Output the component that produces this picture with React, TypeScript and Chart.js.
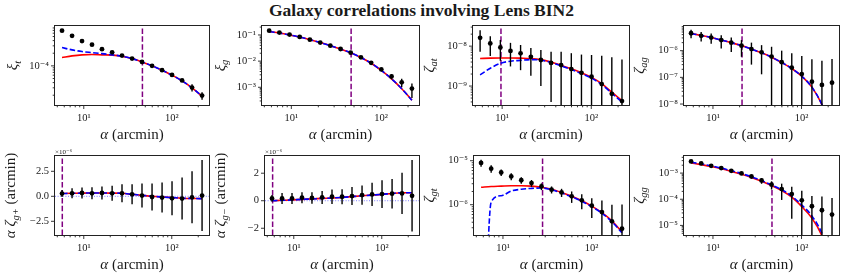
import React, { useEffect, useRef } from "react";
import { Chart, registerables } from "chart.js";

Chart.register(...registerables);

const W = 843;
const H = 278;
const SERIF = "'Liberation Serif', 'DejaVu Serif', serif";
const TEXT = "#1a1a1a";
const PURPLE = "#800080";

// ---------- data ----------
const ALPHA = [5.66, 7.36, 9.55, 12.4, 16.1, 21.0, 27.2, 35.4, 45.9, 59.7, 77.6, 100.7, 131, 170, 221];
const X_MIN = 4.71;
const X_MAX = 265;
const X_MAJOR = [10, 100];
const X_LABELS = ["10¹", "10²"];

// xi_t
const XI_T = [6.9e-4, 5.2e-4, 3.9e-4, 3.2e-4, 2.5e-4, 2.1e-4, 1.76e-4, 1.49e-4, 1.24e-4, 1.0e-4, 7.9e-5, 6.1e-5, 4.5e-5, 3.05e-5, 1.96e-5];
const XI_T_ERR = [1.5e-5, 1.2e-5, 9e-6, 7e-6, 6e-6, 5e-6, 4e-6, 3.5e-6, 3e-6, 2.5e-6, 2.5e-6, 2.5e-6, 3e-6, 6e-6, 4e-6];
const XI_T_RED = [1.58e-4, 1.73e-4, 1.83e-4, 1.86e-4, 1.83e-4, 1.8e-4, 1.7e-4, 1.49e-4, 1.24e-4, 1.0e-4, 7.9e-5, 6.0e-5, 4.4e-5, 3.0e-5, 1.9e-5];
const XI_T_BLUE = [2.73e-4, 2.4e-4, 2.19e-4, 2.07e-4, 1.96e-4, 1.83e-4, 1.7e-4, 1.49e-4, 1.24e-4, 1.0e-4, 7.9e-5, 6.0e-5, 4.4e-5, 3.0e-5, 1.9e-5];
const XI_T_TICKS = [1e-4];
const XI_T_TICK_LABELS = ["10⁻⁴"];

// xi_g
const XI_G = [0.146, 0.123, 0.103, 0.084, 0.066, 0.051, 0.039, 0.029, 0.021, 0.0139, 0.0086, 0.0048, 0.0026, 0.00155, 0.00089];
const XI_G_ERR = [0.004, 0.003, 0.0025, 0.002, 0.0015, 0.0012, 0.001, 0.0008, 0.0007, 0.0006, 0.0006, 0.0006, 0.0006, 0.00055, 0.0005];
const XI_G_RED = [0.135, 0.118, 0.1, 0.083, 0.066, 0.051, 0.039, 0.029, 0.021, 0.0137, 0.0083, 0.0044, 0.0021, 0.00088, 0.00032];
const XI_G_BLUE = [0.135, 0.118, 0.1, 0.083, 0.066, 0.051, 0.039, 0.029, 0.021, 0.0137, 0.0083, 0.0044, 0.0021, 0.00088, 0.00032];
const XI_G_TICKS = [0.1, 0.01, 0.001];
const XI_G_TICK_LABELS = ["10⁻¹", "10⁻²", "10⁻³"];

// zeta_at
const ZETA_AT = [1.62e-8, 1.17e-8, 9.3e-9, 7.6e-9, 6.6e-9, 5.4e-9, 4.5e-9, 3.8e-9, 3.35e-9, 2.66e-9, 2.15e-9, 1.71e-9, 1.12e-9, 6.4e-10, 4.2e-10];
const ZETA_AT_ERR = [9e-9, 6e-9, 5e-9, 4.5e-9, 4.1e-9, 3.6e-9, 3.5e-9, 3.4e-9, 3.9e-9, 4.0e-9, 4.0e-9, 4.3e-9, 4.6e-9, 4.6e-9, 4.2e-9];
const ZETA_AT_RED = [4.9e-9, 5.0e-9, 5.05e-9, 5.05e-9, 5.0e-9, 4.9e-9, 4.6e-9, 4.0e-9, 3.3e-9, 2.7e-9, 2.15e-9, 1.65e-9, 1.15e-9, 7.0e-10, 4.3e-10];
const ZETA_AT_BLUE = [1.9e-9, 2.8e-9, 3.7e-9, 4.2e-9, 4.4e-9, 4.6e-9, 4.45e-9, 3.9e-9, 3.2e-9, 2.6e-9, 2.05e-9, 1.58e-9, 1.08e-9, 6.6e-10, 4.0e-10];
const ZETA_AT_TICKS = [1e-8, 1e-9];
const ZETA_AT_TICK_LABELS = ["10⁻⁸", "10⁻⁹"];

// zeta_ag
const ZETA_AG = [4.5e-6, 3.6e-6, 3.1e-6, 2.5e-6, 2.0e-6, 1.54e-6, 1.15e-6, 8.7e-7, 6.0e-7, 3.7e-7, 2.3e-7, 1.33e-7, 6.9e-8, 5.2e-8, 6.3e-8];
const ZETA_AG_ERR = [1.6e-6, 1.4e-6, 1.3e-6, 1.3e-6, 1.1e-6, 9.5e-7, 8.5e-7, 7.4e-7, 8e-7, 6.3e-7, 5.7e-7, 5e-7, 4.1e-7, 3.7e-7, 4.2e-7];
const ZETA_AG_RED = [4.4e-6, 3.7e-6, 3.1e-6, 2.5e-6, 2.0e-6, 1.55e-6, 1.15e-6, 8.3e-7, 5.7e-7, 3.6e-7, 2.15e-7, 1.1e-7, 4.3e-8, 9.5e-9, 1e-9];
const ZETA_AG_BLUE = [4.4e-6, 3.7e-6, 3.1e-6, 2.5e-6, 2.0e-6, 1.55e-6, 1.15e-6, 8.3e-7, 5.7e-7, 3.6e-7, 2.15e-7, 1.1e-7, 4.3e-8, 9.5e-9, 1e-9];
const ZETA_AG_TICKS = [1e-6, 1e-7, 1e-8];
const ZETA_AG_TICK_LABELS = ["10⁻⁶", "10⁻⁷", "10⁻⁸"];

// alpha * zeta_g+  (x1e-6)
const AZ_GP = [0.27, 0.3, 0.33, 0.3, 0.33, 0.3, 0.3, 0.2, 0.07, -0.07, -0.13, -0.2, -0.23, -0.1, 0.07];
const AZ_GP_ERR = [0.35, 0.5, 0.55, 0.6, 0.65, 0.75, 0.9, 1.0, 1.2, 1.35, 1.5, 1.7, 2.1, 2.6, 3.55];
const AZ_GP_RED = [0.28, 0.3, 0.32, 0.33, 0.33, 0.32, 0.3, 0.2, 0.1, 0.0, -0.07, -0.13, -0.19, -0.22, -0.23];
const AZ_GP_BLUE = [0.28, 0.3, 0.32, 0.33, 0.33, 0.32, 0.3, 0.2, 0.1, 0.0, -0.07, -0.13, -0.19, -0.22, -0.23];
const AZ_GP_TICKS = [2.5, 0, -2.5];
const AZ_GP_TICK_LABELS = ["2.5", "0.0", "−2.5"];

// alpha * zeta_g-  (x1e-6)
const AZ_GM = [0.17, 0.17, 0.17, 0.22, 0.2, 0.24, 0.29, 0.29, 0.34, 0.41, 0.46, 0.48, 0.51, 0.53, 0.36];
const AZ_GM_ERR = [0.25, 0.4, 0.4, 0.4, 0.42, 0.47, 0.52, 0.55, 0.65, 0.7, 0.84, 1.0, 1.07, 1.5, 2.6];
const AZ_GM_RED = [0.0, 0.03, 0.06, 0.1, 0.13, 0.17, 0.2, 0.24, 0.3, 0.36, 0.41, 0.46, 0.53, 0.58, 0.58];
const AZ_GM_BLUE = [0.0, 0.03, 0.06, 0.1, 0.13, 0.17, 0.2, 0.24, 0.3, 0.36, 0.41, 0.46, 0.53, 0.58, 0.58];
const AZ_GM_TICKS = [2, 0, -2];
const AZ_GM_TICK_LABELS = ["2", "0", "−2"];

// zeta_gt
const ZETA_GT = [8.9e-6, 6.6e-6, 5.4e-6, 4.4e-6, 3.6e-6, 3.1e-6, 2.6e-6, 2.2e-6, 1.9e-6, 1.55e-6, 1.26e-6, 9.5e-7, 6.8e-7, 4.2e-7, 2.85e-7];
const ZETA_GT_ERR = [1.6e-6, 1.3e-6, 9e-7, 8e-7, 6e-7, 5.5e-7, 4.5e-7, 4e-7, 4e-7, 4.5e-7, 4.7e-7, 4.5e-7, 5.6e-7, 5.8e-7, 7.2e-7];
const ZETA_GT_RED = [2.5e-6, 2.6e-6, 2.65e-6, 2.7e-6, 2.7e-6, 2.65e-6, 2.5e-6, 2.25e-6, 1.9e-6, 1.55e-6, 1.23e-6, 9.3e-7, 6.6e-7, 4.3e-7, 2.4e-7];
const ZETA_GT_BLUE = [1e-12, 1.15e-6, 1.6e-6, 2.05e-6, 2.25e-6, 2.35e-6, 2.4e-6, 2.2e-6, 1.85e-6, 1.52e-6, 1.2e-6, 9.0e-7, 6.4e-7, 4.1e-7, 2.3e-7];
const ZETA_GT_TICKS = [1e-5, 1e-6];
const ZETA_GT_TICK_LABELS = ["10⁻⁵", "10⁻⁶"];

// zeta_gg
const ZETA_GG = [2.8e-3, 2.35e-3, 1.9e-3, 1.55e-3, 1.22e-3, 9.7e-4, 7.4e-4, 5.2e-4, 3.6e-4, 2.44e-4, 1.58e-4, 9.1e-5, 5.4e-5, 3.8e-5, 2.6e-5];
const ZETA_GG_ERR = [8e-5, 7e-5, 5e-5, 4e-5, 3.5e-5, 3.5e-5, 6e-5, 1.3e-4, 1.25e-4, 1.5e-4, 1.4e-4, 1.2e-4, 8e-5, 9e-5, 8.5e-5];
const ZETA_GG_RED = [2.45e-3, 2.1e-3, 1.78e-3, 1.46e-3, 1.16e-3, 9.0e-4, 6.8e-4, 4.9e-4, 3.35e-4, 2.15e-4, 1.2e-4, 5.2e-5, 1.9e-5, 4e-6, 3e-7];
const ZETA_GG_BLUE = [2.6e-3, 2.25e-3, 1.88e-3, 1.55e-3, 1.23e-3, 9.6e-4, 7.2e-4, 5.2e-4, 3.5e-4, 2.3e-4, 1.32e-4, 6.0e-5, 2.3e-5, 5e-6, 4e-7];
const ZETA_GG_TICKS = [1e-3, 1e-4, 1e-5];
const ZETA_GG_TICK_LABELS = ["10⁻³", "10⁻⁴", "10⁻⁵"];

// scale cuts (vertical purple lines), in arcmin
const SCALE_CUTS = [46.4, 46.4, 9.7, 21.3, 5.7, 5.75, 28, 46.4];

const TITLE = "Galaxy correlations involving Lens BIN2";

// ---------- layout ----------
type Part = { t: string; it?: boolean; sub?: boolean };
type Panel = {
  left: number; top: number; right: number; bottom: number;
  yType: "logarithmic" | "linear";
  yMin: number; yMax: number;
  yTicks: number[]; yTickLabels: string[];
  vals: number[]; err: number[]; red: number[]; blue: number[];
  cut: number;
  label: Part[]; labelX: number;
  zero?: boolean; offsetText?: string;
};

const Y_W = 40;
const X_H = 40;

const PANELS: Panel[] = [
  { left: 55, top: 26, right: 209, bottom: 105, yType: "logarithmic", yMin: 1.17e-5, yMax: 8.9e-4, yTicks: XI_T_TICKS, yTickLabels: XI_T_TICK_LABELS, vals: XI_T, err: XI_T_ERR, red: XI_T_RED, blue: XI_T_BLUE, cut: SCALE_CUTS[0], label: [{ t: "ξ", it: true }, { t: "t", it: true, sub: true }], labelX: 13.5 },
  { left: 262, top: 26, right: 419, bottom: 105, yType: "logarithmic", yMin: 2.1e-4, yMax: 0.22, yTicks: XI_G_TICKS, yTickLabels: XI_G_TICK_LABELS, vals: XI_G, err: XI_G_ERR, red: XI_G_RED, blue: XI_G_BLUE, cut: SCALE_CUTS[1], label: [{ t: "ξ", it: true }, { t: "g", it: true, sub: true }], labelX: 221 },
  { left: 473, top: 26, right: 629, bottom: 105, yType: "logarithmic", yMin: 3.35e-10, yMax: 3.2e-8, yTicks: ZETA_AT_TICKS, yTickLabels: ZETA_AT_TICK_LABELS, vals: ZETA_AT, err: ZETA_AT_ERR, red: ZETA_AT_RED, blue: ZETA_AT_BLUE, cut: SCALE_CUTS[2], label: [{ t: "ζ", it: true }, { t: "at", it: true, sub: true }], labelX: 430 },
  { left: 684, top: 26, right: 839, bottom: 105, yType: "logarithmic", yMin: 9.2e-9, yMax: 8.4e-6, yTicks: ZETA_AG_TICKS, yTickLabels: ZETA_AG_TICK_LABELS, vals: ZETA_AG, err: ZETA_AG_ERR, red: ZETA_AG_RED, blue: ZETA_AG_BLUE, cut: SCALE_CUTS[3], label: [{ t: "ζ", it: true }, { t: "ag", it: true, sub: true }], labelX: 640 },
  { left: 55, top: 156, right: 209, bottom: 235, yType: "linear", yMin: -3.87, yMax: 4.03, yTicks: AZ_GP_TICKS, yTickLabels: AZ_GP_TICK_LABELS, vals: AZ_GP, err: AZ_GP_ERR, red: AZ_GP_RED, blue: AZ_GP_BLUE, cut: SCALE_CUTS[4], label: [{ t: "α ζ", it: true }, { t: "g+", it: true, sub: true }, { t: " (arcmin)" }], labelX: 11.5, zero: true, offsetText: "×10⁻⁶" },
  { left: 265, top: 156, right: 419, bottom: 235, yType: "linear", yMin: -2.49, yMax: 3.25, yTicks: AZ_GM_TICKS, yTickLabels: AZ_GM_TICK_LABELS, vals: AZ_GM, err: AZ_GM_ERR, red: AZ_GM_RED, blue: AZ_GM_BLUE, cut: SCALE_CUTS[5], label: [{ t: "α ζ", it: true }, { t: "g−", it: true, sub: true }, { t: " (arcmin)" }], labelX: 221, zero: true, offsetText: "×10⁻⁶" },
  { left: 474, top: 156, right: 629, bottom: 235, yType: "logarithmic", yMin: 2.05e-7, yMax: 1.28e-5, yTicks: ZETA_GT_TICKS, yTickLabels: ZETA_GT_TICK_LABELS, vals: ZETA_GT, err: ZETA_GT_ERR, red: ZETA_GT_RED, blue: ZETA_GT_BLUE, cut: SCALE_CUTS[6], label: [{ t: "ζ", it: true }, { t: "gt", it: true, sub: true }], labelX: 430 },
  { left: 684, top: 156, right: 839, bottom: 235, yType: "logarithmic", yMin: 4.3e-6, yMax: 4.5e-3, yTicks: ZETA_GG_TICKS, yTickLabels: ZETA_GG_TICK_LABELS, vals: ZETA_GG, err: ZETA_GG_ERR, red: ZETA_GG_RED, blue: ZETA_GG_BLUE, cut: SCALE_CUTS[7], label: [{ t: "ζ", it: true }, { t: "gg", it: true, sub: true }], labelX: 640 },
];

function logTicks(min: number, max: number): number[] {
  const out: number[] = [];
  for (let d = Math.floor(Math.log10(min)); d <= Math.ceil(Math.log10(max)); d++) {
    for (let k = 1; k <= 9; k++) {
      const v = k * Math.pow(10, d);
      if (v >= min && v <= max) out.push(v);
    }
  }
  return out;
}

function isDecade(v: number) {
  const l = Math.log10(v);
  return Math.abs(l - Math.round(l)) < 1e-6;
}

function findIdx(list: number[], v: number) {
  return list.findIndex((m) => Math.abs(m - v) <= Math.abs(m) * 1e-6 + 1e-12);
}

function drawRich(ctx: CanvasRenderingContext2D, parts: Part[], cx: number, cy: number, size: number, rotate: boolean) {
  ctx.save();
  ctx.translate(cx, cy);
  if (rotate) ctx.rotate(-Math.PI / 2);
  ctx.textBaseline = "middle";
  ctx.textAlign = "left";
  ctx.fillStyle = TEXT;
  const fontFor = (p: Part) => `${p.it ? "italic " : ""}${p.sub ? size * 0.7 : size}px ${SERIF}`;
  let total = 0;
  const widths = parts.map((p) => {
    ctx.font = fontFor(p);
    const w = ctx.measureText(p.t).width;
    total += w;
    return w;
  });
  let x = -total / 2;
  parts.forEach((p, i) => {
    ctx.font = fontFor(p);
    ctx.fillText(p.t, x, p.sub ? size * 0.3 : 0);
    x += widths[i];
  });
  ctx.restore();
}

function makePlugin(p: Panel) {
  return {
    id: "panelDecor",
    beforeDatasetsDraw(chart: any) {
      const { ctx, chartArea: a, scales } = chart;
      ctx.save();
      ctx.beginPath();
      ctx.rect(a.left, a.top, a.right - a.left, a.bottom - a.top);
      ctx.clip();
      if (p.zero) {
        const y = scales.y.getPixelForValue(0);
        ctx.strokeStyle = "rgba(70,70,255,0.7)";
        ctx.lineWidth = 1;
        ctx.setLineDash([1, 1.6]);
        ctx.beginPath();
        ctx.moveTo(a.left, y);
        ctx.lineTo(a.right, y);
        ctx.stroke();
      }
      const x = scales.x.getPixelForValue(p.cut);
      ctx.strokeStyle = PURPLE;
      ctx.lineWidth = 1.5;
      ctx.setLineDash([5.5, 2.4]);
      ctx.beginPath();
      ctx.moveTo(x, a.bottom);
      ctx.lineTo(x, a.top);
      ctx.stroke();
      ctx.restore();
    },
    beforeDatasetDraw(chart: any, args: any) {
      if (args.index !== 2) return;
      const { ctx, chartArea: a, scales } = chart;
      ctx.save();
      ctx.beginPath();
      ctx.rect(a.left, a.top, a.right - a.left, a.bottom - a.top);
      ctx.clip();
      ctx.strokeStyle = "#000";
      ctx.lineWidth = 1.4;
      ctx.setLineDash([]);
      ALPHA.forEach((xv, i) => {
        const x = scales.x.getPixelForValue(xv);
        const hi = p.vals[i] + p.err[i];
        const lo = p.vals[i] - p.err[i];
        const yHi = scales.y.getPixelForValue(hi);
        const yLo = p.yType === "logarithmic" && lo <= 0 ? a.bottom + 10 : scales.y.getPixelForValue(lo);
        ctx.beginPath();
        ctx.moveTo(x, yLo);
        ctx.lineTo(x, yHi);
        ctx.stroke();
      });
      ctx.restore();
    },
    afterDraw(chart: any) {
      const { ctx, chartArea: a, scales } = chart;
      ctx.save();
      ctx.strokeStyle = "#222";
      ctx.lineWidth = 0.9;
      ctx.setLineDash([]);
      scales.x.ticks.forEach((t: any) => {
        const x = scales.x.getPixelForValue(t.value);
        const len = isDecade(t.value) ? 4 : 2.3;
        ctx.beginPath();
        ctx.moveTo(x, a.bottom);
        ctx.lineTo(x, a.bottom + len);
        ctx.stroke();
      });
      scales.y.ticks.forEach((t: any) => {
        const y = scales.y.getPixelForValue(t.value);
        const major = p.yType === "linear" || isDecade(t.value);
        const len = major ? 4 : 2.3;
        ctx.beginPath();
        ctx.moveTo(a.left, y);
        ctx.lineTo(a.left - len, y);
        ctx.stroke();
      });
      ctx.lineWidth = 1;
      ctx.strokeStyle = "#222";
      ctx.strokeRect(a.left - 0.5, a.top - 0.5, a.right - a.left + 1, a.bottom - a.top + 1);
      ctx.restore();

      drawRich(ctx, [{ t: "α", it: true }, { t: " (arcmin)" }], (a.left + a.right) / 2, a.bottom + 30, 15, false);
      drawRich(ctx, p.label, p.labelX, (a.top + a.bottom) / 2, 15, true);

      if (p.offsetText) {
        ctx.save();
        ctx.fillStyle = TEXT;
        ctx.font = `7px ${SERIF}`;
        ctx.textAlign = "left";
        ctx.textBaseline = "alphabetic";
        ctx.fillText(p.offsetText, a.left, a.top - 2);
        ctx.restore();
      }
    },
  };
}

function makeConfig(p: Panel): any {
  const pts = ALPHA.map((x, i) => ({ x, y: p.vals[i] }));
  const red = ALPHA.map((x, i) => ({ x, y: p.red[i] }));
  const blue = ALPHA.map((x, i) => ({ x, y: p.blue[i] }));
  const xTicks = logTicks(X_MIN, X_MAX);
  const yTicks = p.yType === "logarithmic" ? logTicks(p.yMin, p.yMax) : p.yTicks.slice();
  const tickFont = { family: SERIF, size: 10.5 };
  return {
    type: "line",
    data: {
      datasets: [
        { data: red, borderColor: "#ff0000", borderWidth: 1.6, pointRadius: 0, cubicInterpolationMode: "monotone", fill: false, order: 3 },
        { data: blue, borderColor: "#0000ff", borderWidth: 1.6, borderDash: [5.5, 2.4], pointRadius: 0, cubicInterpolationMode: "monotone", fill: false, order: 2 },
        { data: pts, showLine: false, pointRadius: 2.4, pointBackgroundColor: "#000", pointBorderWidth: 0, borderColor: "#000", order: 1 },
      ],
    },
    options: {
      animation: false,
      responsive: false,
      devicePixelRatio: 1,
      events: [],
      layout: { padding: { left: p.left - Y_W, top: p.top, right: W - p.right, bottom: H - p.bottom - X_H } },
      plugins: { legend: { display: false }, tooltip: { enabled: false }, title: { display: false } },
      scales: {
        x: {
          type: "logarithmic",
          min: X_MIN,
          max: X_MAX,
          bounds: "data",
          afterFit: (s: any) => { s.height = X_H; },
          afterBuildTicks: (s: any) => { s.ticks = xTicks.map((v) => ({ value: v })); },
          grid: { drawOnChartArea: false, drawTicks: true, tickLength: 4, tickColor: "rgba(0,0,0,0)", color: "rgba(0,0,0,0)" },
          border: { display: false },
          ticks: {
            autoSkip: false, maxRotation: 0, minRotation: 0, padding: 3, color: TEXT, font: tickFont,
            callback: (v: number) => { const i = findIdx(X_MAJOR, v); return i >= 0 ? X_LABELS[i] : ""; },
          },
        },
        y: {
          type: p.yType,
          min: p.yMin,
          max: p.yMax,
          bounds: "data",
          afterFit: (s: any) => { s.width = Y_W; },
          afterBuildTicks: (s: any) => { s.ticks = yTicks.map((v) => ({ value: v })); },
          grid: { drawOnChartArea: false, drawTicks: true, tickLength: 4, tickColor: "rgba(0,0,0,0)", color: "rgba(0,0,0,0)" },
          border: { display: false },
          ticks: {
            autoSkip: false, padding: 2, color: TEXT, font: tickFont,
            callback: (v: number) => { const i = findIdx(p.yTicks, v); return i >= 0 ? p.yTickLabels[i] : ""; },
          },
        },
      },
    },
    plugins: [makePlugin(p)],
  };
}

function PanelCanvas({ p }: { p: Panel }) {
  const ref = useRef<HTMLCanvasElement | null>(null);
  useEffect(() => {
    if (!ref.current) return;
    const chart = new Chart(ref.current, makeConfig(p));
    return () => chart.destroy();
  }, [p]);
  return <canvas ref={ref} width={W} height={H} style={{ position: "absolute", left: 0, top: 0, width: W, height: H }} />;
}

export default function App() {
  return (
    <div style={{ position: "absolute", left: 0, top: 0, width: W, height: H, background: "#fff", overflow: "hidden" }}>
      <div style={{ position: "absolute", left: 0, top: 0, width: W, textAlign: "center", font: `bold 17.5px ${SERIF}`, color: TEXT, lineHeight: "20px" }}>
        {TITLE}
      </div>
      {PANELS.map((p, i) => (
        <PanelCanvas key={i} p={p} />
      ))}
    </div>
  );
}
